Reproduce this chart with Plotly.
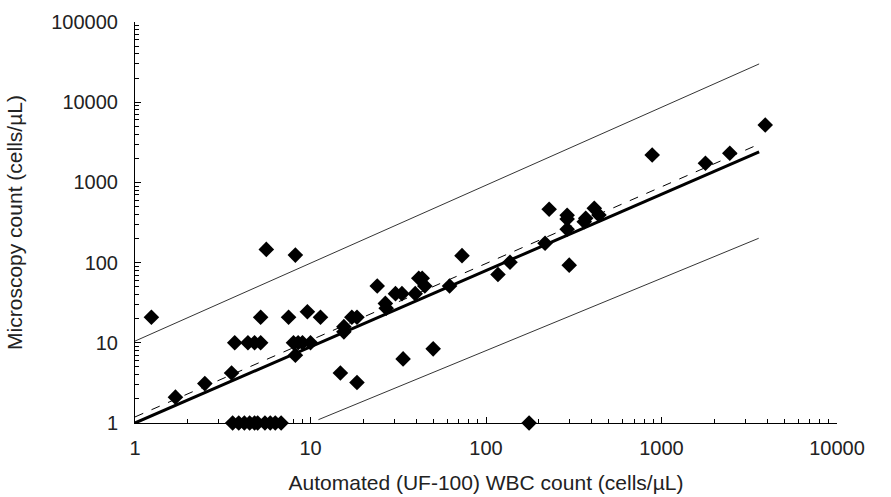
import plotly.graph_objects as go

# Data points: automated (x) vs microscopy (y), cells/µL
auto_x = [1.24, 1.7, 2.5, 3.55, 3.7, 4.4, 4.8, 5.2, 5.2, 7.5, 9.6, 11.4,
          8.0, 8.5, 9.0, 10.0, 8.2, 5.6, 8.2,
          3.6, 3.9, 4.2, 4.5, 4.8, 5.0, 5.5, 5.9, 6.3, 6.8,
          15.5, 15.5, 17.2, 18.4, 14.8, 18.4, 24, 26.7, 27, 30.5, 33.2, 39.5,
          41.4, 43.3, 44.8, 33.7, 50, 62, 73, 117, 137, 176, 217, 229,
          290, 290, 290, 298, 363, 370, 414, 440, 885, 1780, 2450, 3900]
micro_y = [20.8, 2.1, 3.1, 4.2, 10, 10, 10, 10, 20.8, 20.8, 24.4, 20.8,
           10, 10, 10, 10, 7.0, 146, 124,
           1, 1, 1, 1, 1, 1, 1, 1, 1, 1,
           15.9, 13.7, 20.8, 20.8, 4.2, 3.2, 51, 31, 27, 41, 41, 41,
           63.7, 63.7, 51, 6.3, 8.4, 51, 122, 71, 101, 1, 174, 462,
           390, 350, 260, 93, 324, 357, 475, 392, 2197, 1730, 2306, 5200]

# Line endpoints (x, y)
reg_x = [1, 3600]
reg_y = [1, 2400]
dash_x = [1, 3580]
dash_y = [1.19, 2985]
upper_x = [1, 3600]
upper_y = [10.5, 30000]
lower_x = [11.1, 3580]
lower_y = [1.1, 201]

fig = go.Figure()
fig.add_trace(go.Scatter(x=upper_x, y=upper_y, mode="lines",
                         line=dict(color="black", width=0.8), showlegend=False))
fig.add_trace(go.Scatter(x=lower_x, y=lower_y, mode="lines",
                         line=dict(color="black", width=0.8), showlegend=False))
fig.add_trace(go.Scatter(x=dash_x, y=dash_y, mode="lines",
                         line=dict(color="black", width=1, dash="dash"), showlegend=False))
fig.add_trace(go.Scatter(x=reg_x, y=reg_y, mode="lines",
                         line=dict(color="black", width=3), showlegend=False))
fig.add_trace(go.Scatter(x=auto_x, y=micro_y, mode="markers",
                         marker=dict(symbol="diamond", size=12, color="black"),
                         cliponaxis=False, showlegend=False))

font = "Liberation Sans, Arial, sans-serif"
fig.update_layout(
    width=891, height=497,
    margin=dict(l=135, r=54, t=22, b=74),
    paper_bgcolor="white", plot_bgcolor="white",
    font=dict(family=font, size=20, color="#222"),
    showlegend=False,
)
fig.update_xaxes(type="log", range=[0, 4], showline=True, linecolor="black", linewidth=1,
                 automargin=False,
                 ticks="inside", ticklen=6, tickcolor="black", showgrid=False, zeroline=False,
                 tickvals=[1, 10, 100, 1000, 10000], ticktext=["1", "10", "100", "1000", "10000"],
                 minor=dict(ticks="inside", ticklen=4, tickcolor="black", showgrid=False,
                            tickvals=[m * 10 ** d for d in range(4) for m in range(2, 10)]),
                 tickfont=dict(size=20), ticklabelstandoff=7,
                 title=dict(text="Automated (UF-100) WBC count (cells/µL)", font=dict(size=21), standoff=17))
fig.update_yaxes(type="log", range=[0, 5], showline=True, linecolor="black", linewidth=1,
                 automargin=False,
                 ticks="inside", ticklen=6, tickcolor="black", showgrid=False, zeroline=False,
                 tickvals=[1, 10, 100, 1000, 10000, 100000],
                 ticktext=["1", "10", "100", "1000", "10000", "100000"],
                 minor=dict(ticks="inside", ticklen=4, tickcolor="black", showgrid=False,
                            tickvals=[m * 10 ** d for d in range(5) for m in range(2, 10)]),
                 tickfont=dict(size=20), ticklabelstandoff=12,
                 title=dict(text="Microscopy count (cells/µL)", font=dict(size=21), standoff=22))

fig.write_html("out.html")
